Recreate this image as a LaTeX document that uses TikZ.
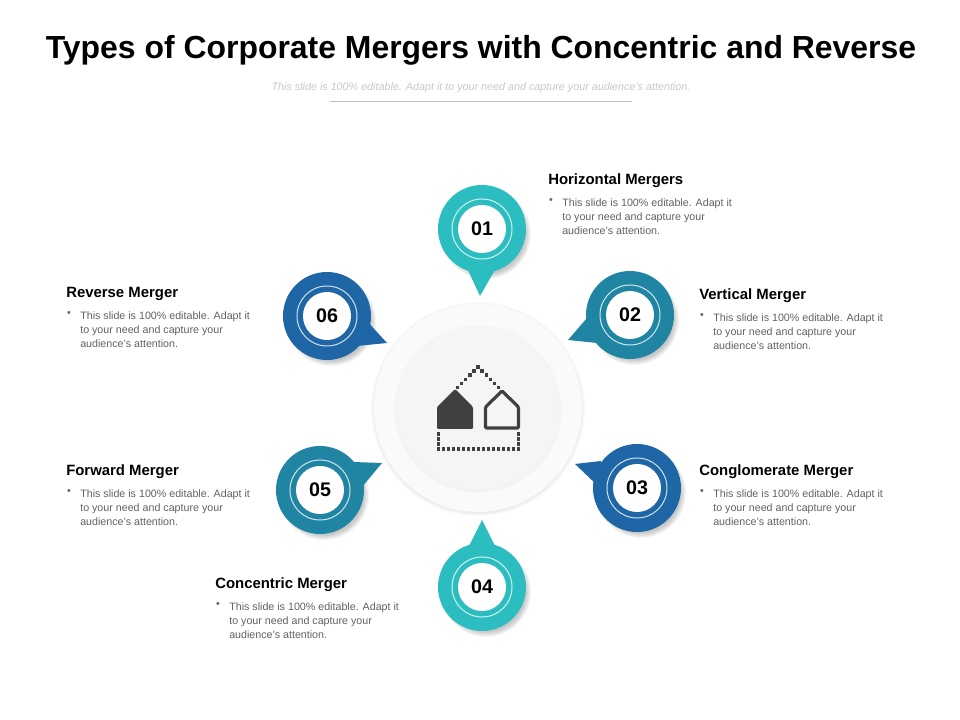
\documentclass[tikz,border=0pt]{standalone}
\usepackage{fontspec}
\setmainfont{Liberation Sans}
\usetikzlibrary{calc}
\definecolor{pinteal}{HTML}{2BBDBF}
\definecolor{pinpetrol}{HTML}{1F85A3}
\definecolor{pinblue}{HTML}{1F66A6}
\definecolor{icongray}{HTML}{404040}
\tikzset{
	pinnum/.style={circle, fill=white, minimum size=1.2cm, inner sep=0pt, font=\bfseries\fontsize{14}{14}\selectfont},
	headtext/.style={anchor=west, inner sep=0pt, font=\bfseries\fontsize{10.6}{12}\selectfont},
	bodytext/.style={anchor=north west, inner sep=0pt, align=left, text=black!62, font=\fontsize{7.6}{10}\selectfont},
	bullettext/.style={anchor=north, inner sep=0pt, text=black!62, font=\fontsize{7.6}{10}\selectfont}
}
\def\bodylines{This slide is 100\% editable. Adapt it\\to your need and capture your\\audience's attention.}
\def\softshadow(#1)(#2)#3{\foreach \step in {0,1,...,5} {\fill[black, opacity=#3] (#1) circle ({#2-\step});}}
\def\icondot(#1,#2){\fill[icongray] ({#1-1.7},{#2-1.7}) rectangle ({#1+1.7},{#2+1.7});}
\def\mergepin[#1](#2)(#3)(#4)(#5)#6{
	\softshadow($(#2)+(4,5)$)(45){0.04}
	\fill[#1] (#3) -- (#4) -- (#5) -- cycle;
	\fill[#1] (#2) circle (44);
	\draw[white!80!#1, line width=0.25mm] (#2) circle (30);
	\node[pinnum] (pin#6) at (#2) {#6};
}
\def\mergeinfo(#1)#2#3{
	\node[headtext] (#2head) at ($(#1)+(0,1.5)$) {#3};
	\node[bullettext] (#2dot) at ($(#1)+(3,19.5)$) {•};
	\node[bodytext] (#2body) at ($(#1)+(14,19.5)$) {\bodylines};
}

\begin{document}
\begin{tikzpicture}[x=0.025cm, y=-0.025cm]
	\useasboundingbox (0,0) rectangle (960,720);
	%%%%% TITLE %%%%%
	\node[inner sep=0pt, font=\bfseries\fontsize{22.7}{26}\selectfont] (title) at (481,50.5) {Types of Corporate Mergers with Concentric and Reverse};
	\node[inner sep=0pt, text=black!22, font=\itshape\fontsize{7.65}{10}\selectfont] (subtitle) at (481,87.5) {This slide is 100\% editable. Adapt it to your need and capture your audience's attention.};
	\coordinate (ruleleft) at (330,101);
	\coordinate (ruleright) at (632,101);
	\draw[black!25, line width=0.2mm] (ruleleft) -- (ruleright);

	%%%%% CENTRE %%%%%
	\softshadow(478,409)(107){0.018}
	\fill[black!2] (478,408) circle (104);
	\softshadow(478,409)(84){0.012}
	\fill[black!4] (478,408) circle (82);

	\fill[icongray, rounded corners=0.3mm] (437,429) -- (437,407) -- (455,389) -- (473,407) -- (473,429) -- cycle;
	\draw[icongray, line width=0.8mm, rounded corners=0.3mm] (485.5,428) -- (485.5,407) -- (502,391) -- (518.5,407) -- (518.5,428) -- cycle;
	\foreach \n in {0,...,5} {
		\icondot({478-\n*4.1},{367+\n*4.1})
		\icondot({478+\n*4.1},{367+\n*4.1})
	}
	\foreach \n in {0,...,16} {\icondot({438.5+\n*5},449)}
	\foreach \n in {0,...,2} {
		\icondot(438.5,{434+\n*5})
		\icondot(518.5,{434+\n*5})
	}

	%%%%% PINS %%%%%
	\mergepin[pinteal](482,229)(467,268)(480,296)(496,268){01}
	\mergepin[pinpetrol](630,315)(587,318)(568,340)(597,343){02}
	\mergepin[pinblue](637,488)(601,461)(575,464)(598,486){03}
	\mergepin[pinteal](482,587)(467,550)(482,520)(497,550){04}
	\mergepin[pinpetrol](320,490)(353,462)(382,463)(362,487){05}
	\mergepin[pinblue](327,316)(366,320)(387,343)(357,346){06}

	%%%%% LABELS %%%%%
	\mergeinfo(548,179){horizontal}{Horizontal Mergers}
	\mergeinfo(699,294){vertical}{Vertical Merger}
	\mergeinfo(699,470){conglomerate}{Conglomerate Merger}
	\mergeinfo(215,583){concentric}{Concentric Merger}
	\mergeinfo(66,470){forward}{Forward Merger}
	\mergeinfo(66,292){reverse}{Reverse Merger}
\end{tikzpicture}
\end{document}
